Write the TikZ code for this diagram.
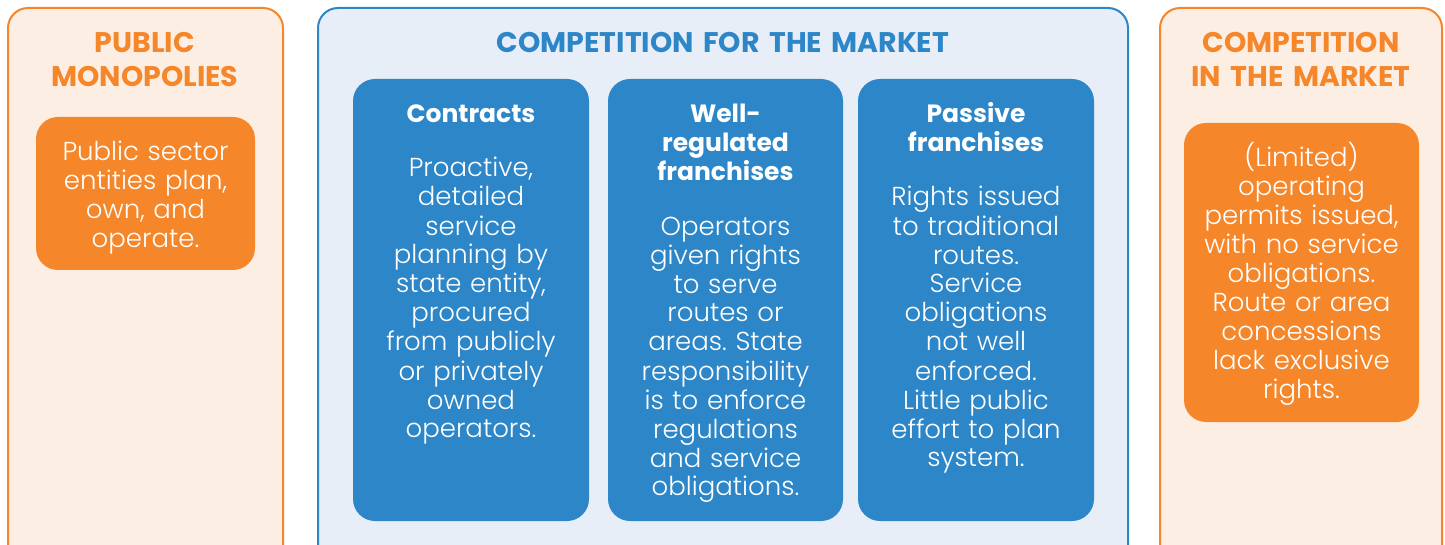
\documentclass[tikz,border=0pt]{standalone}
\usepackage{fontspec}
\setmainfont{Poppins}[UprightFont={* Light}, BoldFont={* Bold}]
\usetikzlibrary{positioning}
\frenchspacing

\definecolor{mktOrange}{HTML}{F5862A}
\definecolor{mktOrangeBg}{HTML}{FDEEE4}
\definecolor{mktBlue}{HTML}{2C86C7}
\definecolor{mktBlueBg}{HTML}{E7EEF8}

\tikzset{
  panel/.style={line width=1pt, rounded corners=10pt},
  card/.style={rounded corners=11pt},
  heading/.style={font=\bfseries\fontsize{14.2}{17}\selectfont, align=center,
    text width=150pt, anchor=base, inner sep=0pt},
  cardtitle/.style={text=white, font=\bfseries\fontsize{12.5}{14.5}\selectfont,
    align=center, text width=125pt, anchor=base, inner sep=0pt},
  cardtext/.style={text=white, font=\fontsize{13}{14.5}\selectfont,
    align=center, text width=125pt, anchor=base, inner sep=0pt},
}

\begin{document}
\begin{tikzpicture}[x=0.5pt, y=-0.5pt]
  \useasboundingbox (0,0) rectangle (1445,545);
  \clip (0,0) rectangle (1445,545);

  % outer panels, cut at the bottom edge
  \draw[panel, draw=mktOrange, fill=mktOrangeBg] (8,8) rectangle (283,600);
  \draw[panel, draw=mktBlue, fill=mktBlueBg] (318,8) rectangle (1128,600);
  \draw[panel, draw=mktOrange, fill=mktOrangeBg] (1160,8) rectangle (1442,600);

  % headings
  \node[heading, text=mktOrange] (pubhead) at (145,53) {PUBLIC\\MONOPOLIES};
  \node[heading, text=mktBlue, text width=300pt] (forhead) at (723,53) {COMPETITION FOR THE MARKET};
  \node[heading, text=mktOrange] (inhead) at (1301,53) {COMPETITION\\IN THE MARKET};

  % public monopolies
  \fill[card, mktOrange] (36,117) rectangle (255,270);
  \node[cardtext] (pubtext) at (145.5,161) {Public sector\\entities plan,\\own, and\\operate.};

  % competition for the market
  \fill[card, mktBlue] (353,79) rectangle (589,521);
  \fill[card, mktBlue] (608,79) rectangle (843,521);
  \fill[card, mktBlue] (858,79) rectangle (1094,521);

  \node[cardtitle] (contitle) at (471,123) {Contracts};
  \node[cardtext] (context) at (471,177) {Proactive,\\detailed\\service\\planning by\\state entity,\\procured\\from publicly\\or privately\\owned\\operators.};

  \node[cardtitle] (welltitle) at (725.5,123) {Well-\\regulated\\franchises};
  \node[cardtext] (welltext) at (725.5,235) {Operators\\given rights\\to serve\\routes or\\areas. State\\responsibility\\is to enforce\\regulations\\and service\\obligations.};

  \node[cardtitle] (pastitle) at (976,123) {Passive\\franchises};
  \node[cardtext] (pastext) at (976,206) {Rights issued\\to traditional\\routes.\\Service\\obligations\\not well\\enforced.\\Little public\\effort to plan\\system.};

  % competition in the market
  \fill[card, mktOrange] (1184,123) rectangle (1419,422);
  \node[cardtext] (intext) at (1301.5,167) {(Limited)\\operating\\permits issued,\\with no service\\obligations.\\Route or area\\concessions\\lack exclusive\\rights.};
\end{tikzpicture}
\end{document}
